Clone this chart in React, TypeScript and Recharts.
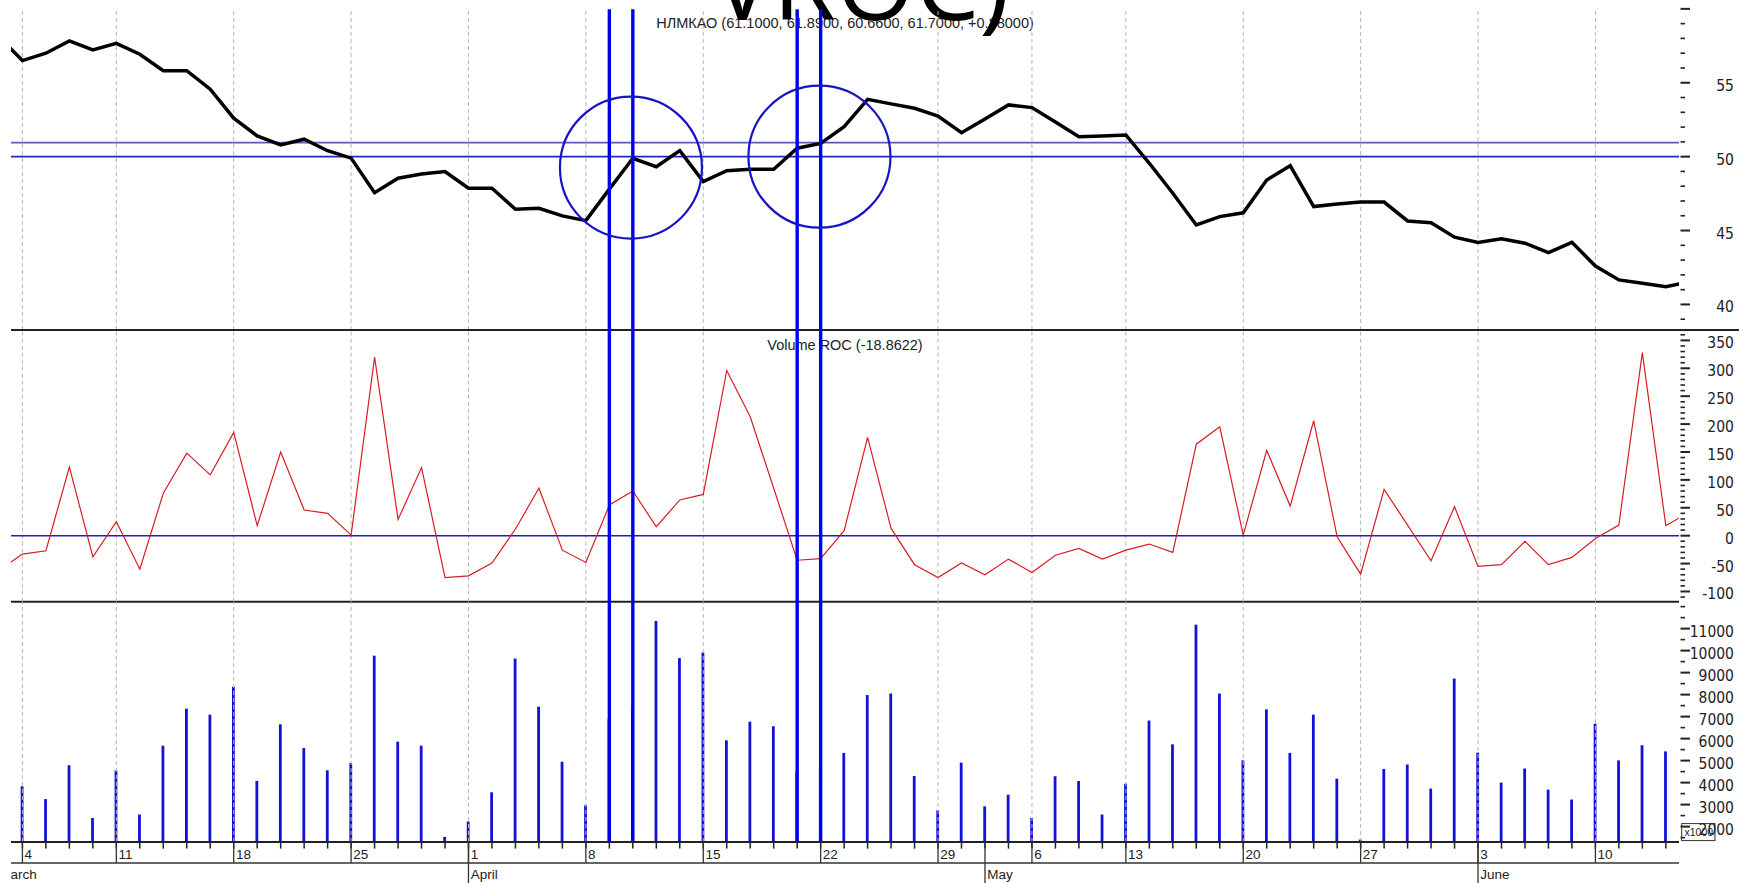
import React from 'react';
import {
  LineChart,
  Line,
  BarChart,
  Bar,
  XAxis,
  YAxis,
  ReferenceLine,
  ReferenceDot,
  Customized,
} from 'recharts';

// ---------------- data ----------------
const tradingDays = [
  '01.03', '04.03', '05.03', '06.03', '07.03', '11.03', '12.03', '13.03', '14.03', '15.03',
  '18.03', '19.03', '20.03', '21.03', '22.03', '25.03', '26.03', '27.03', '28.03', '29.03',
  '01.04', '02.04', '03.04', '04.04', '05.04', '08.04', '09.04', '10.04', '11.04', '12.04',
  '15.04', '16.04', '17.04', '18.04', '19.04', '22.04', '23.04', '24.04', '25.04', '26.04',
  '29.04', '30.04', '02.05', '03.05', '06.05', '07.05', '08.05', '10.05', '13.05', '14.05',
  '15.05', '16.05', '17.05', '20.05', '21.05', '22.05', '23.05', '24.05', '27.05', '28.05',
  '29.05', '30.05', '31.05', '03.06', '04.06', '05.06', '06.06', '07.06', '10.06', '11.06',
  '13.06', '14.06', '17.06',
];

const priceClose = [
  58.1, 56.5, 57.0, 57.83, 57.22, 57.67, 56.93, 55.82, 55.82, 54.56,
  52.6, 51.4, 50.79, 51.18, 50.4, 49.9, 47.56, 48.54, 48.83, 48.99,
  47.86, 47.86, 46.44, 46.51, 45.99, 45.67, 47.8, 49.89, 49.32, 50.41,
  48.31, 49.05, 49.15, 49.15, 50.57, 50.9, 52.03, 53.88, 53.57, 53.27,
  52.75, 51.62, 52.55, 53.5, 53.32, 52.35, 51.35, 51.4, 51.47, 49.55,
  47.52, 45.38, 45.94, 46.2, 48.42, 49.39, 46.62, 46.8, 46.93, 46.93,
  45.65, 45.53, 44.55, 44.2, 44.45, 44.14, 43.5, 44.2, 42.6, 41.66,
  41.43, 41.2, 41.52,
];

const volumeRoc = [
  -62, -33, -27, 123, -38, 25, -60, 76, 148, 109,
  185, 18, 150, 46, 40, 1, 320, 29, 122, -75,
  -72, -49, 12, 85, -26, -48, 55, 80, 16, 64,
  74, 296, 213, 85, -44, -41, 9, 176, 13, -52,
  -75, -49, -70, -42, -66, -35, -23, -42, -26, -15,
  -30, 164, 195, 1, 153, 53, 206, -2, -69, 83,
  19, -45, 52, -55, -52, -10, -52, -39, -5, 19,
  328, 18, 42,
];

// volume, thousands of shares
const volumeK = [
  null, 3.83, 3.25, 4.79, 2.39, 4.55, 2.55, 5.68, 7.36, 7.09,
  8.36, 4.07, 6.65, 5.57, 4.56, 4.89, 9.77, 5.86, 5.68, 1.53,
  2.23, 3.56, 9.64, 7.45, 4.95, 2.97, 6.9, 7.5, 11.35, 9.66,
  9.91, 5.92, 6.77, 6.56, 4.5, 4.6, 5.35, 7.98, 8.05, 4.3,
  2.74, 4.91, 2.92, 3.45, 2.39, 4.29, 4.07, 2.55, 3.95, 6.82,
  5.74, 11.18, 8.05, 5.01, 7.33, 5.35, 7.09, 4.18, 1.41, 4.62,
  4.82, 3.73, 8.73, 5.36, 4.0, 4.64, 3.68, 3.23, 6.68, 5.01,
  5.7, 5.42, null,
];

const markedDays = [25, 26, 33, 34];
const levelLines = [
  { value: 50.95, color: '#5a5ac0' },
  { value: 50, color: '#2323cc' },
];
const circleCenters = [
  { x: 25.92, y: 49.26 },
  { x: 33.95, y: 50.0 },
];

const priceMajor = [40, 45, 50, 55, 60];
const priceLabels = [40, 45, 50, 55];
const rocLabels = [-100, -50, 0, 50, 100, 150, 200, 250, 300, 350];
const volLabels = [2, 3, 4, 5, 6, 7, 8, 9, 10, 11];
const monthNames = ['January', 'February', 'March', 'April', 'May', 'June', 'July'];

const titleText = 'НЛМКАО (61.1000, 61.8900, 60.6600, 61.7000, +0.88000)';
const rocTitle = 'Volume ROC (-18.8622)';
const slideTitle = 'VROC)';

// ---------------- derived ----------------
const rows = tradingDays.map((d, k) => ({
  x: k - 1,
  date: d,
  price: priceClose[k],
  roc: volumeRoc[k],
  vol: volumeK[k],
}));

const dayInfo = tradingDays.map((s) => {
  const [dd, mm] = s.split('.').map(Number);
  return { dd, mm, wd: new Date(2013, mm - 1, dd).getDay() };
});

const weekStarts = rows.filter((r, k) => dayInfo[k].wd === 1).map((r) => r.x);
const monthStarts = rows
  .filter((r, k) => k === 0 || dayInfo[k].mm !== dayInfo[k - 1].mm)
  .map((r) => r.x);

// ---------------- layout ----------------
const W = 1745;
const PLOT_L = 11;
const AXIS_W = 66;
const AXIS_X = W - AXIS_W; // 1679
const X_DOMAIN: [number, number] = [-0.4856, 70.56];
const xTicks = rows.map((r) => r.x).filter((v) => v >= X_DOMAIN[0] && v <= X_DOMAIN[1]);
const xPix = (v: number) =>
  PLOT_L + ((v - X_DOMAIN[0]) / (X_DOMAIN[1] - X_DOMAIN[0])) * (AXIS_X - PLOT_L);

const FONT = "'Liberation Sans', Arial, sans-serif";
const NARROW = "'Liberation Sans Narrow', 'Arial Narrow', 'DejaVu Sans Condensed', sans-serif";
const INK = '#222';

const range = (a: number, b: number, s: number) => {
  const out: number[] = [];
  for (let v = a; v <= b + 1e-9; v += s) out.push(Math.round(v * 100) / 100);
  return out;
};
const priceTicks = range(39, 60, 1);
const rocTicks = range(-110, 360, 10);
const volTicks = range(1.5, 12, 0.5);

const makeYTick =
  (majors: (v: number) => boolean, labels: number[], fmt: (v: number) => string) =>
  (props: any) => {
    const { y, payload } = props;
    const v = payload.value;
    const major = majors(v);
    return (
      <g>
        <line
          x1={AXIS_X + 1.5}
          x2={AXIS_X + (major ? 11 : 6)}
          y1={y}
          y2={y}
          stroke={INK}
          strokeWidth={major ? 2 : 1.6}
        />
        {labels.includes(v) && (
          <text x={1734} y={y + 8} textAnchor="end" fontSize={15.5} fontFamily={NARROW} fill={INK}>
            {fmt(v)}
          </text>
        )}
      </g>
    );
  };

const PriceTick = makeYTick((v) => priceMajor.includes(v), priceLabels, (v) => String(v));
const RocTick = makeYTick((v) => v % 50 === 0, rocLabels, (v) => String(v));
const VolTick = makeYTick(
  (v) => Number.isInteger(v) && v <= 11,
  volLabels,
  (v) => String(Math.round(v * 1000)),
);

const VOL_BASE = 240;

const DateTick = (props: any) => {
  const { x, payload } = props;
  const k = payload.value + 1;
  const info = dayInfo[k];
  if (!info) return <g />;
  const isMon = info.wd === 1;
  const isMonth = monthStarts.includes(payload.value);
  return (
    <g>
      <line x1={x} x2={x} y1={VOL_BASE} y2={VOL_BASE + 6.6} stroke={INK} strokeWidth={1.5} />
      {isMon && (
        <line x1={x} x2={x} y1={VOL_BASE} y2={VOL_BASE + 21} stroke="#333" strokeWidth={1.3} />
      )}
      {isMon && (
        <text x={x + 2.2} y={VOL_BASE + 16.8} fontSize={13.5} fontFamily={FONT} fill={INK}>
          {info.dd}
        </text>
      )}
      {isMonth && (
        <line x1={x} x2={x} y1={VOL_BASE} y2={VOL_BASE + 42} stroke="#333" strokeWidth={1.3} />
      )}
      {isMonth && (
        <text x={x + 2.2} y={VOL_BASE + 36.8} fontSize={13.5} fontFamily={FONT} fill={INK}>
          {monthNames[info.mm - 1]}
        </text>
      )}
    </g>
  );
};

const gridLines = (prefix: string) =>
  weekStarts.map((x) => (
    <ReferenceLine
      key={prefix + 'g' + x}
      x={x}
      stroke="#b5b5b5"
      strokeWidth={1}
      strokeDasharray="4 3"
    />
  ));

const markLines = (prefix: string) =>
  markedDays.map((x) => (
    <ReferenceLine key={prefix + 'm' + x} x={x} stroke="#0000ee" strokeWidth={3.4} />
  ));

const firstMonth = monthStarts[0];
const firstMonthInfo = dayInfo[firstMonth + 1];

export default function App() {
  return (
    <div style={{ position: 'absolute', left: 0, top: 0, width: W, height: 883, background: '#fff' }}>
      {/* price panel */}
      <div style={{ position: 'absolute', left: 0, top: 0 }}>
        <LineChart width={W} height={330} data={rows} margin={{ top: 9.3, right: 0, bottom: 0, left: PLOT_L }}>
          <XAxis dataKey="x" type="number" domain={X_DOMAIN} allowDataOverflow hide />
          <YAxis
            orientation="right"
            type="number"
            domain={[38.27, 59.97]}
            allowDataOverflow
            width={AXIS_W}
            ticks={priceTicks}
            interval={0}
            tickLine={false}
            axisLine={false}
            tickSize={0}
            tickMargin={0}
            tick={PriceTick}
          />
          {gridLines('p')}
          {levelLines.map((l) => (
            <ReferenceLine key={'lv' + l.value} y={l.value} stroke={l.color} strokeWidth={1.6} />
          ))}
          <Line
            dataKey="price"
            type="linear"
            stroke="#000"
            strokeWidth={3.5}
            dot={false}
            isAnimationActive={false}
          />
          {circleCenters.map((c) => (
            <ReferenceDot
              key={'c' + c.x}
              x={c.x}
              y={c.y}
              r={71}
              fill="none"
              stroke="#1515c4"
              strokeWidth={2.2}
            />
          ))}
          {markLines('p')}
          <Customized
            component={
              <g>
                <text x={845} y={28} textAnchor="middle" fontSize={14.5} fontFamily={FONT} fill={INK}>
                  {titleText}
                </text>
                <text x={712} y={20} fontSize={102} fontFamily="'Open Sans', sans-serif" fill="#000">
                  {slideTitle}
                </text>
              </g>
            }
          />
        </LineChart>
      </div>

      {/* volume ROC panel */}
      <div style={{ position: 'absolute', left: 0, top: 329 }}>
        <LineChart width={W} height={273.7} data={rows} margin={{ top: 1, right: 0, bottom: 1, left: PLOT_L }}>
          <XAxis dataKey="x" type="number" domain={X_DOMAIN} allowDataOverflow hide />
          <YAxis
            orientation="right"
            type="number"
            domain={[-118.3, 368.6]}
            allowDataOverflow
            width={AXIS_W}
            ticks={rocTicks}
            interval={0}
            tickLine={false}
            axisLine={false}
            tickSize={0}
            tickMargin={0}
            tick={RocTick}
          />
          {gridLines('r')}
          <ReferenceLine y={0} stroke="#1c1cd0" strokeWidth={1.6} />
          <Line
            dataKey="roc"
            type="linear"
            stroke="#d81c24"
            strokeWidth={1.2}
            dot={false}
            isAnimationActive={false}
          />
          {markLines('r')}
          <Customized
            component={
              <g>
                <line x1={PLOT_L} x2={1739} y1={1} y2={1} stroke={INK} strokeWidth={2} />
                <line x1={PLOT_L} x2={AXIS_X} y1={272.7} y2={272.7} stroke={INK} strokeWidth={2} />
                <text x={845} y={21} textAnchor="middle" fontSize={14.5} fontFamily={FONT} fill={INK}>
                  {rocTitle}
                </text>
              </g>
            }
          />
        </LineChart>
      </div>

      {/* volume panel */}
      <div style={{ position: 'absolute', left: 0, top: 601.7 }}>
        <BarChart width={W} height={281.3} data={rows} margin={{ top: 0, right: 0, bottom: 0, left: PLOT_L }}>
          <XAxis
            dataKey="x"
            type="number"
            domain={X_DOMAIN}
            allowDataOverflow
            height={41.3}
            ticks={xTicks}
            interval={0}
            tickLine={false}
            tickSize={0}
            tickMargin={0}
            axisLine={{ stroke: INK, strokeWidth: 2 }}
            tick={DateTick}
          />
          <YAxis
            orientation="right"
            type="number"
            domain={[1.3, 12.21]}
            allowDataOverflow
            width={AXIS_W}
            ticks={volTicks}
            interval={0}
            tickLine={false}
            axisLine={false}
            tickSize={0}
            tickMargin={0}
            tick={VolTick}
          />
          {gridLines('v')}
          <Bar dataKey="vol" fill="#1212d6" barSize={2.8} isAnimationActive={false} />
          {markLines('v')}
          <Customized
            component={
              <g>
                <defs>
                  <clipPath id="monthClip">
                    <rect x={PLOT_L} y={0} width={AXIS_X - PLOT_L} height={290} />
                  </clipPath>
                </defs>
                <line x1={PLOT_L} x2={AXIS_X} y1={261} y2={261} stroke="#333" strokeWidth={1.5} />
                <text
                  x={xPix(firstMonth) + 0.3}
                  y={VOL_BASE + 36.8}
                  fontSize={13.5}
                  fontFamily={FONT}
                  fill={INK}
                  clipPath="url(#monthClip)"
                >
                  {monthNames[firstMonthInfo.mm - 1]}
                </text>
                <rect x={1681.7} y={221.6} width={33.3} height={17} fill="#fff" stroke="#333" strokeWidth={1} />
                <text x={1684.5} y={234.5} fontSize={10.5} fontFamily={FONT} fill={INK}>
                  x1000
                </text>
              </g>
            }
          />
        </BarChart>
      </div>
    </div>
  );
}
